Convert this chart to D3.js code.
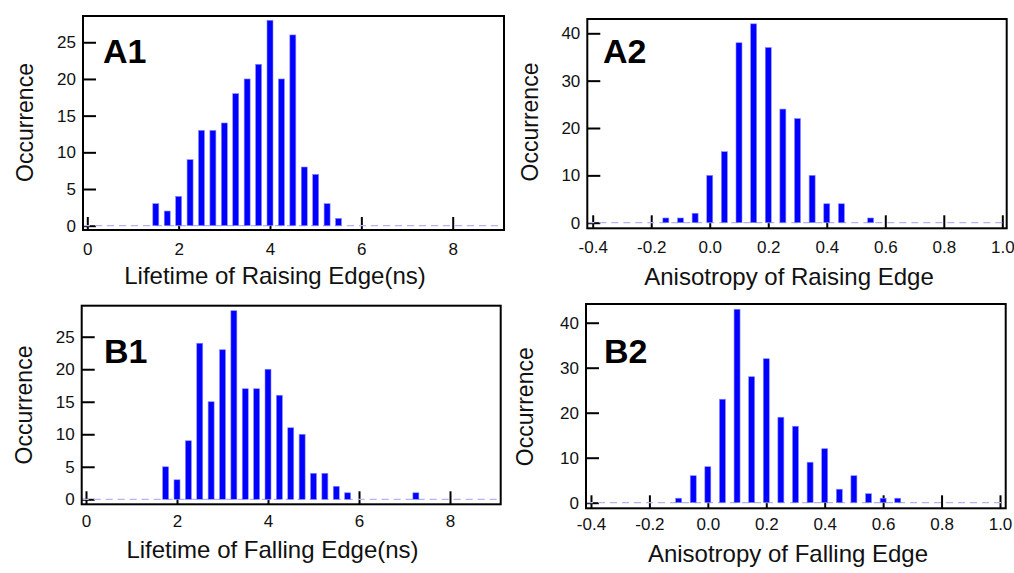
<!DOCTYPE html>
<html><head><meta charset="utf-8">
<script src="https://cdn.jsdelivr.net/npm/d3@7"></script>
<style>body{margin:0;background:#fff} text{font-family:"Liberation Sans",Arial,sans-serif}</style>
</head><body><svg id="c" width="1014" height="573"></svg>
<script>
// ---- data ----
const riseLifetimeBins = [1.5,1.75,2.0,2.25,2.5,2.75,3.0,3.25,3.5,3.75,4.0,4.25,4.5,4.75,5.0,5.25,5.5];
const riseLifetimeCounts = [3,2,4,9,13,13,14,18,20,22,28,20,26,8,7,3,1];
const riseAnisoBins = [-0.15,-0.10,-0.05,0.00,0.05,0.10,0.15,0.20,0.25,0.30,0.35,0.40,0.45,0.55];
const riseAnisoCounts = [1,1,2,10,15,38,42,37,24,22,10,4,4,1];
const fallLifetimeBins = [1.75,2.0,2.25,2.5,2.75,3.0,3.25,3.5,3.75,4.0,4.25,4.5,4.75,5.0,5.25,5.5,5.75,7.25];
const fallLifetimeCounts = [5,3,9,24,15,23,29,17,17,20,16,11,10,4,4,2,1,1];
const fallAnisoBins = [-0.10,-0.05,0.00,0.05,0.10,0.15,0.20,0.25,0.30,0.35,0.40,0.45,0.50,0.55,0.60,0.65];
const fallAnisoCounts = [1,6,8,23,43,28,32,19,17,9,12,3,6,2,1,1];
const lifetimeTicks = [0,2,4,6,8];
const anisoTicks = [-0.4,-0.2,0.0,0.2,0.4,0.6,0.8,1.0];
const lifetimeCountTicks = [0,5,10,15,20,25];
const anisoCountTicks = [0,10,20,30,40];
const panelLabels = ["A1","A2","B1","B2"];
const xTitles = ["Lifetime of Raising Edge(ns)","Anisotropy of Raising Edge","Lifetime of Falling Edge(ns)","Anisotropy of Falling Edge"];
const yTitle = "Occurrence";

// ---- layout ----
const fmtInt = d => d3.format("d")(d).replace("\u2212","-");
const fmt1 = d => d3.format(".1f")(d).replace("\u2212","-");
const panels = [
  {bins:riseLifetimeBins, counts:riseLifetimeCounts, xt:lifetimeTicks, yt:lifetimeCountTicks, fmt:fmtInt,
   box:[83,16,504,230], xd:[-0.094,9.123], yd:[-0.586,28.58],
   lab:[103,63], xtitle:[275,284], ytitle:[33,122.5], tickBase:25},
  {bins:riseAnisoBins, counts:riseAnisoCounts, xt:anisoTicks, yt:anisoCountTicks, fmt:fmt1,
   box:[587.3,19,1006.7,228.3], xd:[-0.4185,1.015], yd:[-1.18,43.02],
   lab:[603,63.3], xtitle:[789,285], ytitle:[538,122], tickBase:25},
  {bins:fallLifetimeBins, counts:fallLifetimeCounts, xt:lifetimeTicks, yt:lifetimeCountTicks, fmt:fmtInt,
   box:[81.7,305.7,500.7,504.3], xd:[-0.0945,9.114], yd:[-0.77,29.77],
   lab:[104,362.7], xtitle:[272.5,558], ytitle:[31.5,405], tickBase:23},
  {bins:fallAnisoBins, counts:fallAnisoCounts, xt:anisoTicks, yt:anisoCountTicks, fmt:fmt1,
   box:[586,304,1005.7,508.3], xd:[-0.417,1.0195], yd:[-1.244,44.16],
   lab:[604,362.7], xtitle:[788,562], ytitle:[533,406.7], tickBase:22}
];

const svg = d3.select("#c");
panels.forEach((p,i)=>{
  const [l,t,r,b] = p.box;
  const x = d3.scaleLinear().domain(p.xd).range([l,r]);
  const y = d3.scaleLinear().domain(p.yd).range([b,t]);
  const g = svg.append("g");

  // ticks (inward)
  const xa = d3.axisBottom(x).tickValues(p.xt).tickFormat(p.fmt).tickSize(-13).tickPadding(0);
  const gx = g.append("g").attr("transform",`translate(0,${b})`).call(xa);
  gx.select(".domain").remove();
  gx.selectAll(".tick line").attr("stroke","#000").attr("stroke-width",2);
  gx.selectAll(".tick text").attr("y",p.tickBase).attr("dy",0).attr("font-size",17)
    .attr("fill","#111").style("font-family",'"Liberation Sans",Arial,sans-serif');

  const ya = d3.axisLeft(y).tickValues(p.yt).tickFormat(fmtInt).tickSize(-13).tickPadding(7);
  const gy = g.append("g").attr("transform",`translate(${l},0)`).call(ya);
  gy.select(".domain").remove();
  gy.selectAll(".tick line").attr("stroke","#000").attr("stroke-width",2);
  gy.selectAll(".tick text").attr("x",-7).attr("font-size",17).attr("fill","#111")
    .style("font-family",'"Liberation Sans",Arial,sans-serif');

  // zero dashed line
  g.append("line").attr("x1",l).attr("x2",r).attr("y1",y(0)).attr("y2",y(0))
    .attr("stroke","#b4b4f0").attr("stroke-width",1.2).attr("stroke-dasharray","7,5");

  // bars
  const data = p.bins.map((v,k)=>({v, c:p.counts[k]}));
  g.selectAll("rect.bar").data(data).join("rect").attr("class","bar")
    .attr("x",d=>x(d.v)-3).attr("width",6)
    .attr("y",d=>y(d.c)).attr("height",d=>y(0)-y(d.c))
    .attr("fill","#0000ff").attr("stroke","#8c8cff").attr("stroke-width",0.6);

  // frame
  g.append("rect").attr("x",l).attr("y",t).attr("width",r-l).attr("height",b-t)
    .attr("fill","none").attr("stroke","#000").attr("stroke-width",2);

  // panel label
  g.append("text").attr("x",p.lab[0]).attr("y",p.lab[1]).text(panelLabels[i])
    .attr("font-size",34).attr("font-weight","bold").attr("fill","#000");

  // axis titles
  g.append("text").attr("x",p.xtitle[0]).attr("y",p.xtitle[1]).attr("text-anchor","middle")
    .attr("font-size",24).attr("fill","#111").text(xTitles[i]);
  g.append("text").attr("transform",`translate(${p.ytitle[0]},${p.ytitle[1]}) rotate(-90)`)
    .attr("text-anchor","middle").attr("font-size",23).attr("fill","#111").text(yTitle);
});
</script></body></html>
